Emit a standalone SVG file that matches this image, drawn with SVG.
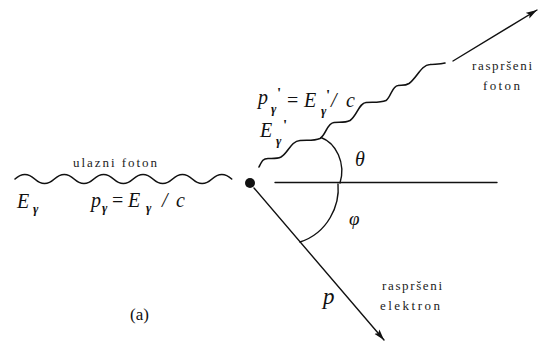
<svg xmlns="http://www.w3.org/2000/svg" width="538" height="343" viewBox="0 0 538 343">
<style>
.ln{fill:none;stroke:#111;stroke-width:1.4;stroke-linecap:round;stroke-linejoin:round}
.wv{fill:none;stroke:#111;stroke-width:1.6;stroke-linecap:round;stroke-linejoin:round}
text{font-family:'Liberation Serif','Times New Roman','DejaVu Serif',serif;fill:#111}
.m{font-style:italic;font-size:20px}
.s{font-style:italic;font-size:13px;font-weight:bold}
.pr{font-size:15px;font-weight:bold}
.eq{font-size:20px}
.phi{font-style:italic;font-size:19px}
.pp{font-style:italic;font-size:23px}
.t{font-size:13px;fill:#222}
.cap{font-size:17px}
</style>
<defs>
<marker id="ah" markerUnits="userSpaceOnUse" markerWidth="12" markerHeight="8" refX="11" refY="4" orient="auto">
<path d="M0,0.6 L11,4 L0,7.4 L2.2,4 z" fill="#111"/>
</marker>
</defs>
<rect width="538" height="343" fill="#fff"/>
<g id="axis">
<line class="ln" x1="275" y1="182.5" x2="497" y2="182.5" stroke-width="1.3"/>
</g>
<g id="incoming-photon">
<path class="wv" d="M15,179 q9.85,-9 19.7,0 t19.7,0 t19.7,0 t19.7,0 t19.7,0 t19.7,0 t19.7,0 t19.7,0 t19.7,0 t19.7,0 t19.7,0"/>
</g>
<g id="electron-dot">
<circle cx="250" cy="183" r="5" fill="#111"/>
</g>
<g id="connectors">
<path id="scattered-photon" class="wv" d="M259,167 C262,161 263,158.5 268,158.5 C273,158.5 277,159 281,157 C288,153 291,141 300,140.5 C308,140 314,141 320,138.5 C326,135 327,123 334,122.5 C340,122 345,123 350,120.5 C357,116 359,103 366,102.5 C373,102 380,103 386,100.5 C391,97 392,86 398,85.5 C402,85 405,86 409,83.5 C417,78 421,65 430,64.5 C436,64 440,64.5 445,63"/>
<line id="photon-arrow" class="ln" x1="453" y1="61" x2="537" y2="10" marker-end="url(#ah)"/>
<line id="electron-arrow" class="ln" x1="254" y1="188" x2="384" y2="340" marker-end="url(#ah)"/>
</g>
<g id="angles">
<path id="theta-arc" class="ln" d="M321,137.5 C336,143 346,163 340,183"/>
<path id="phi-arc" class="ln" d="M338,184 C340,205 328,233 300,242"/>
</g>
<g id="labels">
<text class="t" x="73" y="167" textLength="84" lengthAdjust="spacing">ulazni foton</text>
<text class="m" x="17" y="208">E</text><text class="s" x="33" y="213">γ</text>
<text class="m" x="91" y="207">p</text><text class="s" x="102" y="212">γ</text>
<text class="eq" x="112" y="207">=</text>
<text class="m" x="128" y="207">E</text><text class="s" x="146" y="212">γ</text>
<text class="m" x="162" y="207">/</text><text class="m" x="176" y="207">c</text>
<text class="m" x="258" y="104">p</text><text class="s" x="271" y="113">γ</text><text class="pr" x="277" y="98">'</text>
<text class="eq" x="287" y="107">=</text>
<text class="m" x="304" y="107">E</text><text class="s" x="321" y="115">γ</text><text class="pr" x="326" y="100">'</text>
<text class="m" x="331" y="107">/</text><text class="m" x="346" y="107">c</text>
<text class="m" x="260" y="137">E</text><text class="s" x="276" y="145">γ</text><text class="pr" x="283" y="130">'</text>
<text class="m" x="355" y="166">θ</text>
<text class="phi" x="349" y="225">φ</text>
<text class="pp" x="323" y="304">p</text>
<text class="t" x="472" y="70" textLength="60" lengthAdjust="spacing">raspršeni</text>
<text class="t" x="483" y="90" textLength="37" lengthAdjust="spacing">foton</text>
<text class="t" x="382" y="290" textLength="60" lengthAdjust="spacing">raspršeni</text>
<text class="t" x="380" y="310" textLength="60" lengthAdjust="spacing">elektron</text>
<text class="cap" x="130" y="320">(a)</text>
</g>
</svg>
